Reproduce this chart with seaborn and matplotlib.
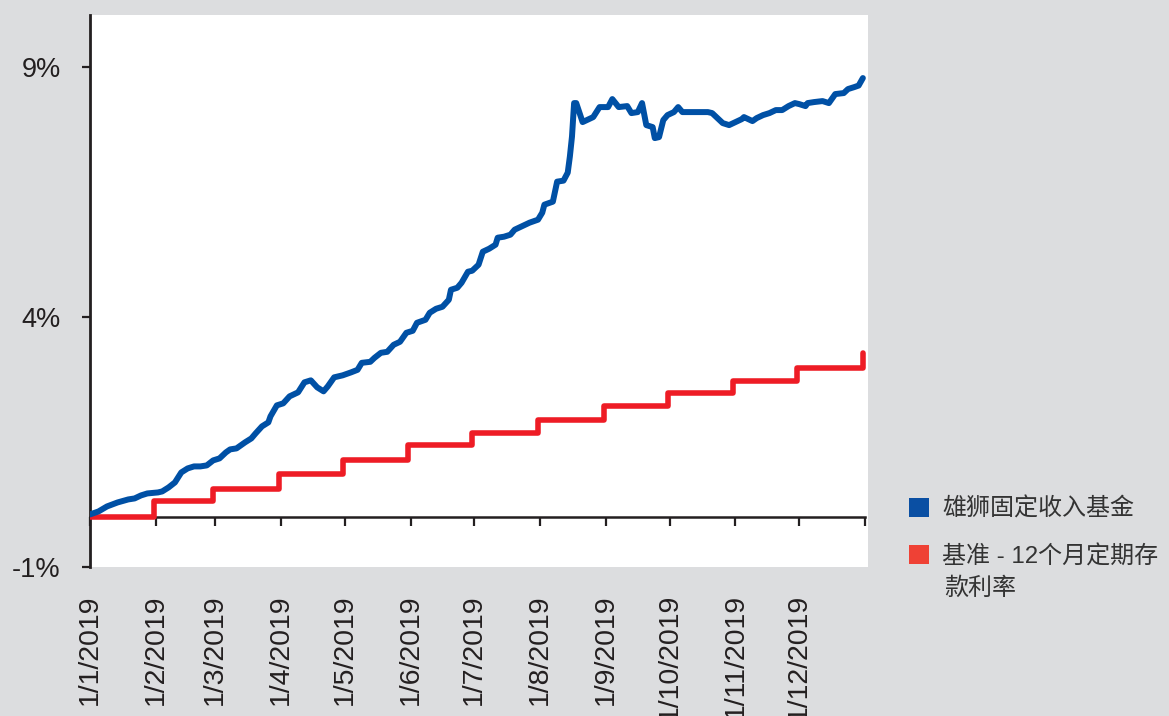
import pandas as pd
import numpy as np
import seaborn as sns
import matplotlib.pyplot as plt
import matplotlib.dates as mdates
from matplotlib.patches import Patch

# Fund: day offset from 1/1/2019 and cumulative return (%)
fund_days = [0, 4, 8, 13, 18, 21, 24, 27, 32, 34, 37, 40, 43, 46, 49, 52, 55, 58, 61, 64,
             66, 69, 73, 76, 78, 81, 84, 85, 88, 91, 94, 98, 101, 104, 107, 110, 112, 115,
             119, 123, 126, 128, 132, 134, 137, 140, 143, 146, 149, 152, 154, 158, 160, 163,
             166, 169, 170, 173, 175, 178, 180, 183, 185, 188, 191, 192, 195, 198, 200, 204,
             207, 211, 213, 214, 218, 220, 223, 225, 226, 227, 228, 229, 232, 235, 237, 240,
             244, 246, 249, 253, 255, 258, 260, 262, 265, 266, 268, 270, 272, 275, 277, 279,
             284, 291, 293, 298, 301, 304, 307, 308, 312, 314, 317, 320, 323, 326, 329, 332,
             334, 337, 338, 341, 345, 348, 351, 355, 357, 360, 362, 364]
fund_vals = [0.05, 0.11, 0.21, 0.29, 0.35, 0.37, 0.43, 0.47, 0.49, 0.51, 0.59, 0.69, 0.89, 0.97,
             1.01, 1.01, 1.03, 1.13, 1.17, 1.29, 1.35, 1.37, 1.49, 1.57, 1.67, 1.81, 1.89, 2.01,
             2.23, 2.27, 2.41, 2.49, 2.69, 2.73, 2.59, 2.51, 2.61, 2.79, 2.83, 2.89, 2.94, 3.08,
             3.10, 3.18, 3.28, 3.30, 3.44, 3.50, 3.68, 3.72, 3.88, 3.94, 4.08, 4.16, 4.20, 4.34,
             4.54, 4.58, 4.68, 4.90, 4.92, 5.04, 5.30, 5.36, 5.44, 5.58, 5.60, 5.64, 5.74, 5.82,
             5.88, 5.94, 6.08, 6.24, 6.30, 6.70, 6.72, 6.88, 7.20, 7.60, 8.27, 8.27, 7.89, 7.95,
             7.99, 8.19, 8.19, 8.35, 8.19, 8.21, 8.07, 8.09, 8.27, 7.83, 7.79, 7.57, 7.59, 7.93,
             8.03, 8.09, 8.19, 8.09, 8.09, 8.09, 8.07, 7.87, 7.83, 7.89, 7.95, 7.99, 7.91, 7.97,
             8.03, 8.07, 8.13, 8.13, 8.21, 8.27, 8.25, 8.21, 8.27, 8.29, 8.31, 8.27, 8.45, 8.47,
             8.55, 8.59, 8.62, 8.77]

# Benchmark: month-end steps
bench_dates = ['2019-01-01', '2019-01-31', '2019-02-28', '2019-03-31', '2019-04-30',
               '2019-05-31', '2019-06-30', '2019-07-31', '2019-08-31', '2019-09-30',
               '2019-10-31', '2019-11-30', '2019-12-31']
bench_vals = [0.0, 0.31, 0.55, 0.85, 1.13, 1.43, 1.67, 1.93, 2.21, 2.47, 2.72, 2.98, 3.28]

tick_dates = pd.date_range('2019-01-01', '2020-01-01', freq='MS')
tick_labels = [f"1/{m}/2019" for m in range(1, 13)] + [""]
y_ticks = [-1, 4, 9]
y_labels = ["-1%", "4%", "9%"]

series_names = ["雄狮固定收入基金", "基准 - 12个月定期存"]
name_wrap = "款利率"   # second line of the benchmark label
line_colors = ["#0050a5", "#ee1c25"]
legend_colors = ["#0a4fa3", "#ef4135"]

sns.set_style("white")
plt.rcParams['font.family'] = ['Liberation Sans', 'Noto Sans CJK SC', 'DejaVu Sans']

fund_dates = pd.Timestamp('2019-01-01') + pd.to_timedelta(fund_days, unit='D')
bench_dates = pd.to_datetime(bench_dates)

fig = plt.figure(figsize=(11.69, 7.16), dpi=100, facecolor='#dcdddf')
ax = fig.add_axes([90 / 1169, 1 - 567 / 716, 778 / 1169, 552 / 716])
ax.set_facecolor('white')

sns.lineplot(x=fund_dates, y=fund_vals, ax=ax, color=line_colors[0], linewidth=4.3,
             solid_capstyle='round', solid_joinstyle='round', zorder=4)
sns.lineplot(x=bench_dates, y=bench_vals, ax=ax, color=line_colors[1], linewidth=4.0,
             drawstyle='steps-post', solid_joinstyle='round', zorder=3)

ax.set_xlim(pd.Timestamp('2019-01-01'), pd.Timestamp('2020-01-02 10:00'))
ax.set_ylim(-1, 10.03)

dark = '#231f20'
ax.spines['top'].set_visible(False)
ax.spines['right'].set_visible(False)
ax.spines['left'].set_color(dark)
ax.spines['left'].set_linewidth(2.0)
ax.spines['bottom'].set_position(('data', 0))
ax.spines['bottom'].set_color(dark)
ax.spines['bottom'].set_linewidth(1.8)
ax.spines['bottom'].set_bounds(mdates.date2num(tick_dates[0]), mdates.date2num(tick_dates[-1]))

ax.set_yticks(y_ticks)
ax.set_yticklabels(y_labels)
ax.set_xticks(tick_dates)
ax.set_xticklabels(tick_labels, rotation=90)
ax.tick_params(axis='y', direction='out', length=6, width=1.6, color=dark,
               labelsize=19.5, labelcolor=dark, pad=15, left=True)
ax.tick_params(axis='x', direction='out', length=6.5, width=1.6, color=dark,
               labelsize=20.5, labelcolor=dark, pad=49, bottom=True)
ax.set_xlabel("")
ax.set_ylabel("")

handles = [Patch(facecolor=c, edgecolor='none') for c in legend_colors]
fig.legend(handles, series_names, loc='upper left', bbox_to_anchor=(899 / 1169, 1 - 488 / 716),
           frameon=False, fontsize=17.3, labelcolor='#333333', handlelength=0.85,
           handleheight=0.85, handletextpad=0.55, labelspacing=1.0, borderaxespad=0)
fig.text(944 / 1169, 1 - 589 / 716, name_wrap, fontsize=17.3, color='#333333',
         ha='left', va='center')

fig.savefig("out.png", dpi=100, facecolor=fig.get_facecolor())
